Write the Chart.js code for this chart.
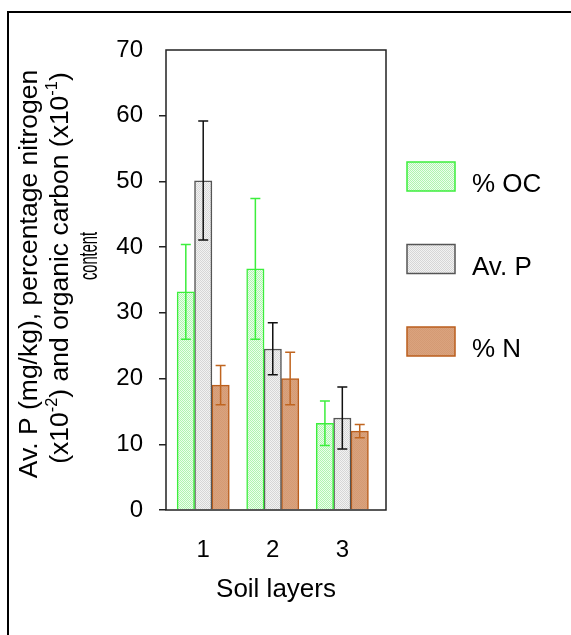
<!DOCTYPE html>
<html>
<head>
<meta charset="utf-8">
<script src="https://cdn.jsdelivr.net/npm/chart.js@4.4.0/dist/chart.umd.min.js"></script>
<style>
  body { margin: 0; background: #fff; }
</style>
</head>
<body>
<canvas id="myChart" width="571" height="635"></canvas>
<script>
// values
const layers = [1, 2, 3];
const seriesNames = ['% OC', 'Av. P', '% N'];

const ocMean = [33.2, 36.7, 13.2];
const ocLow = [26.0, 26.0, 9.8];
const ocHigh = [40.4, 47.4, 16.6];

const pMean = [50.1, 24.5, 14.0];
const pLow = [41.1, 20.6, 9.3];
const pHigh = [59.2, 28.5, 18.7];

const nMean = [19.0, 20.0, 12.0];
const nLow = [16.0, 16.0, 11.0];
const nHigh = [22.0, 24.0, 13.0];

const yTicks = [0, 10, 20, 30, 40, 50, 60, 70];
const xTitle = 'Soil layers';
const yTitle1 = 'Av. P (mg/kg), percentage nitrogen';
const yTitle2 = [{t: '(x10'}, {t: '-2', sup: true}, {t: ') and organic carbon (x10'}, {t: '-1', sup: true}, {t: ')'}];
const yTitle3 = 'content';

const fontFam = "'Liberation Sans', Arial, sans-serif";

// dotted fills like the original
function makePattern(base, dot) {
  const c = document.createElement('canvas');
  c.width = 2; c.height = 2;
  const g = c.getContext('2d');
  g.fillStyle = base;
  g.fillRect(0, 0, 2, 2);
  g.fillStyle = dot;
  g.fillRect(0, 0, 1, 1);
  g.fillRect(1, 1, 1, 1);
  return g.createPattern(c, 'repeat');
}

const ocFill = makePattern('#ecfeec', '#b0f4b0');
const pFill = makePattern('#f2f2f2', '#d6d6d6');
const nFill = makePattern('#daa37e', '#d49a74');

function toPoints(vals) {
  return layers.map((x, i) => ({x: x, y: vals[i]}));
}

const errBars = {
  id: 'errBars',
  afterDatasetsDraw(chart) {
    const ctx = chart.ctx;
    const y = chart.scales.y;
    chart.data.datasets.forEach((ds, di) => {
      const meta = chart.getDatasetMeta(di);
      ctx.save();
      ctx.strokeStyle = ds.errColor;
      ctx.lineWidth = 1.5;
      meta.data.forEach((bar, i) => {
        const top = y.getPixelForValue(ds.errHigh[i]);
        const bot = y.getPixelForValue(ds.errLow[i]);
        ctx.beginPath();
        ctx.moveTo(bar.x, top); ctx.lineTo(bar.x, bot);
        ctx.moveTo(bar.x - 5, top); ctx.lineTo(bar.x + 5, top);
        ctx.moveTo(bar.x - 5, bot); ctx.lineTo(bar.x + 5, bot);
        ctx.stroke();
      });
      ctx.restore();
    });
  }
};

function drawRun(ctx, parts, cx, base, size) {
  let total = 0;
  parts.forEach(p => {
    ctx.font = (p.sup ? size * 0.62 : size) + 'px ' + fontFam;
    total += ctx.measureText(p.t).width;
  });
  let x = cx - total / 2;
  ctx.textAlign = 'left';
  parts.forEach(p => {
    ctx.font = (p.sup ? size * 0.62 : size) + 'px ' + fontFam;
    ctx.fillText(p.t, x, base - (p.sup ? size * 0.4 : 0));
    x += ctx.measureText(p.t).width;
  });
}

const decor = {
  id: 'decor',
  afterDraw(chart) {
    const ctx = chart.ctx;
    const a = chart.chartArea;
    ctx.save();
    // outer frame
    ctx.strokeStyle = '#000';
    ctx.lineWidth = 2;
    ctx.beginPath();
    ctx.moveTo(8, 640); ctx.lineTo(8, 12); ctx.lineTo(580, 12);
    ctx.stroke();
    // box round the plot
    ctx.strokeStyle = '#222';
    ctx.lineWidth = 1.5;
    ctx.strokeRect(a.left, a.top, a.right - a.left, a.bottom - a.top);

    ctx.fillStyle = '#000';
    // x title
    ctx.font = '26px ' + fontFam;
    ctx.textAlign = 'center';
    ctx.textBaseline = 'alphabetic';
    ctx.fillText(xTitle, (a.left + a.right) / 2, 597);

    // y title, three rotated lines
    ctx.save();
    ctx.translate(37, 274);
    ctx.rotate(-Math.PI / 2);
    ctx.font = '26.5px ' + fontFam;
    ctx.textAlign = 'center';
    ctx.fillText(yTitle1, 0, 0);
    ctx.restore();

    ctx.save();
    ctx.translate(68, 268);
    ctx.rotate(-Math.PI / 2);
    drawRun(ctx, yTitle2, 0, 0, 26.5);
    ctx.restore();

    // last line is squeezed along its length in the original
    ctx.save();
    ctx.translate(97, 256);
    ctx.rotate(-Math.PI / 2);
    ctx.font = '26px ' + fontFam;
    ctx.textAlign = 'center';
    const w3 = ctx.measureText(yTitle3).width;
    ctx.scale(48 / w3, 1);
    ctx.fillText(yTitle3, 0, 0);
    ctx.restore();

    // legend
    chart.data.datasets.forEach((ds, i) => {
      const top = 162 + i * 82.5;
      ctx.fillStyle = ds.backgroundColor;
      ctx.fillRect(407, top, 48, 29);
      ctx.strokeStyle = ds.borderColor;
      ctx.lineWidth = 1.5;
      ctx.strokeRect(407, top, 48, 29);
      ctx.fillStyle = '#000';
      ctx.font = '26px ' + fontFam;
      ctx.textAlign = 'left';
      ctx.fillText(ds.label, 472, top + 30);
    });
    ctx.restore();
  }
};

const ctx = document.getElementById('myChart');

new Chart(ctx, {
  type: 'bar',
  data: {
    datasets: [
      {
        label: seriesNames[0],
        data: toPoints(ocMean),
        errLow: ocLow, errHigh: ocHigh,
        backgroundColor: ocFill,
        borderColor: '#3cee3c',
        errColor: '#3cee3c',
        borderWidth: 1.5,
      },
      {
        label: seriesNames[1],
        data: toPoints(pMean),
        errLow: pLow, errHigh: pHigh,
        backgroundColor: pFill,
        borderColor: '#555',
        errColor: '#111',
        borderWidth: 1.5,
      },
      {
        label: seriesNames[2],
        data: toPoints(nMean),
        errLow: nLow, errHigh: nHigh,
        backgroundColor: nFill,
        borderColor: '#bb5e1c',
        errColor: '#c0651f',
        borderWidth: 1.5,
      },
    ],
  },
  options: {
    responsive: false,
    animation: false,
    devicePixelRatio: 1,
    barThickness: 17.4,
    layout: { padding: { top: 50, right: 185, left: 0, bottom: 0 } },
    plugins: {
      legend: { display: false },
      tooltip: { enabled: false },
    },
    scales: {
      x: {
        type: 'linear',
        offset: false,
        min: 0.465,
        max: 3.628,
        afterBuildTicks: (scale) => { scale.ticks = layers.map(v => ({value: v})); },
        afterFit: (scale) => { scale.height = 125; },
        grid: { display: false },
        border: { display: false },
        ticks: { color: '#000', font: { size: 24, family: fontFam }, padding: 18, maxRotation: 0 },
      },
      y: {
        min: 0,
        max: 70,
        afterBuildTicks: (scale) => { scale.ticks = yTicks.map(v => ({value: v})); },
        afterFit: (scale) => { scale.width = 166; },
        grid: {
          drawOnChartArea: false,
          drawTicks: true,
          tickLength: 7,
          lineWidth: 1.5,
          color: (c) => c.tick && c.tick.value === 70 ? 'rgba(0,0,0,0)' : '#222',
        },
        border: { display: false },
        ticks: { color: '#000', font: { size: 24, family: fontFam }, padding: 16 },
      },
    },
  },
  plugins: [errBars, decor],
});
</script>
</body>
</html>
